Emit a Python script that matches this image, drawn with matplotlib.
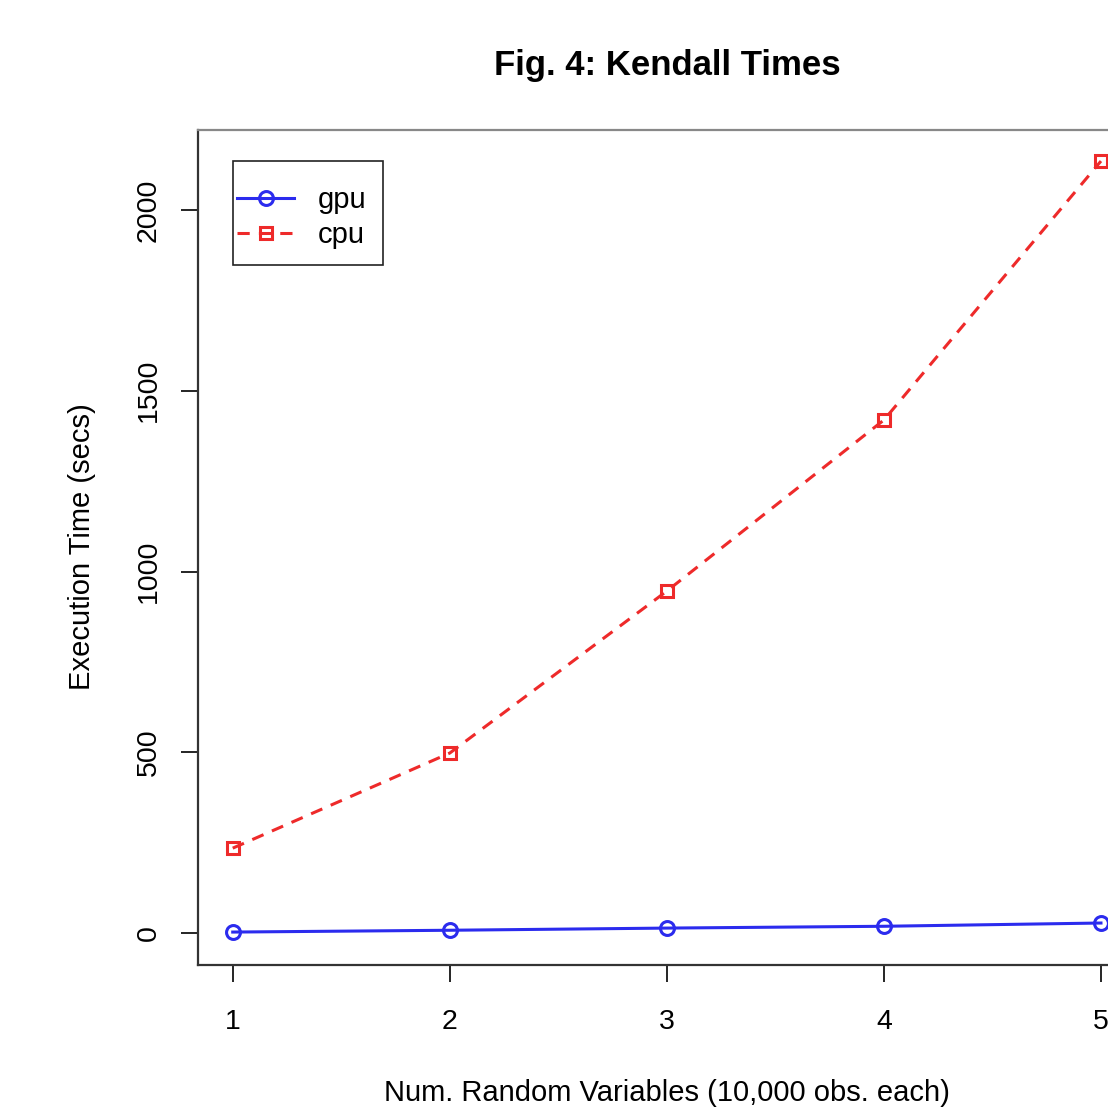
import matplotlib.pyplot as plt
from matplotlib.patches import Rectangle

plt.rcParams['font.family'] = ['Liberation Sans', 'DejaVu Sans']

num_vars = [1, 2, 3, 4, 5]
gpu_secs = [3, 8, 14, 19, 28]
cpu_secs = [235, 498, 946, 1419, 2135]

fig = plt.figure(figsize=(11.08, 11.07), dpi=100)
ax = fig.add_axes([0.1787, 0.1283, 0.8463, 0.7543])

ax.plot(num_vars, gpu_secs, color='#2b2bee', lw=2.2, marker='o', ms=10,
        mfc='none', mew=2.2, label='gpu')
ax.plot(num_vars, cpu_secs, color='#ee2a2a', lw=2.2, ls=(0, (4, 3)),
        marker='s', ms=9, mfc='none', mew=2.2, label='cpu')

ax.set_xlim(0.84, 5.16)
ax.set_ylim(-88, 2221)
ax.set_xticks(num_vars)
ax.set_yticks([0, 500, 1000, 1500, 2000])
ax.tick_params(axis='x', length=12, width=1.2, pad=20, labelsize=20.5)
ax.tick_params(axis='y', length=12, width=1.2, pad=14, labelsize=20.5,
               labelrotation=90)
for lbl in ax.get_yticklabels():
    lbl.set_va('center')
for s in ax.spines.values():
    s.set_linewidth(1.6)
    s.set_color('#333333')
ax.spines['top'].set_color('#888888')

# legend text/handles without frame, box drawn separately (R-style padding)
ax.legend(loc='upper left', bbox_to_anchor=(0.042, 0.933),
          fontsize=21, handlelength=1.95, borderaxespad=0, borderpad=0,
          frameon=False, labelspacing=0.25, handletextpad=0.8)
ax.add_patch(Rectangle((0.0373, 0.8383), 0.1599, 0.1246,
                       transform=ax.transAxes, fill=False,
                       ec='#222222', lw=1.2, zorder=5))

fig.text(0.602, 0.941, 'Fig. 4: Kendall Times', ha='center', va='center',
         fontsize=25, fontweight='bold')
fig.text(0.602, 0.0128, 'Num. Random Variables (10,000 obs. each)',
         ha='center', va='center', fontsize=21)
fig.text(0.074, 0.506, 'Execution Time (secs)', ha='center', va='center',
         rotation=90, fontsize=21)

fig.savefig('out.png', dpi=100)
